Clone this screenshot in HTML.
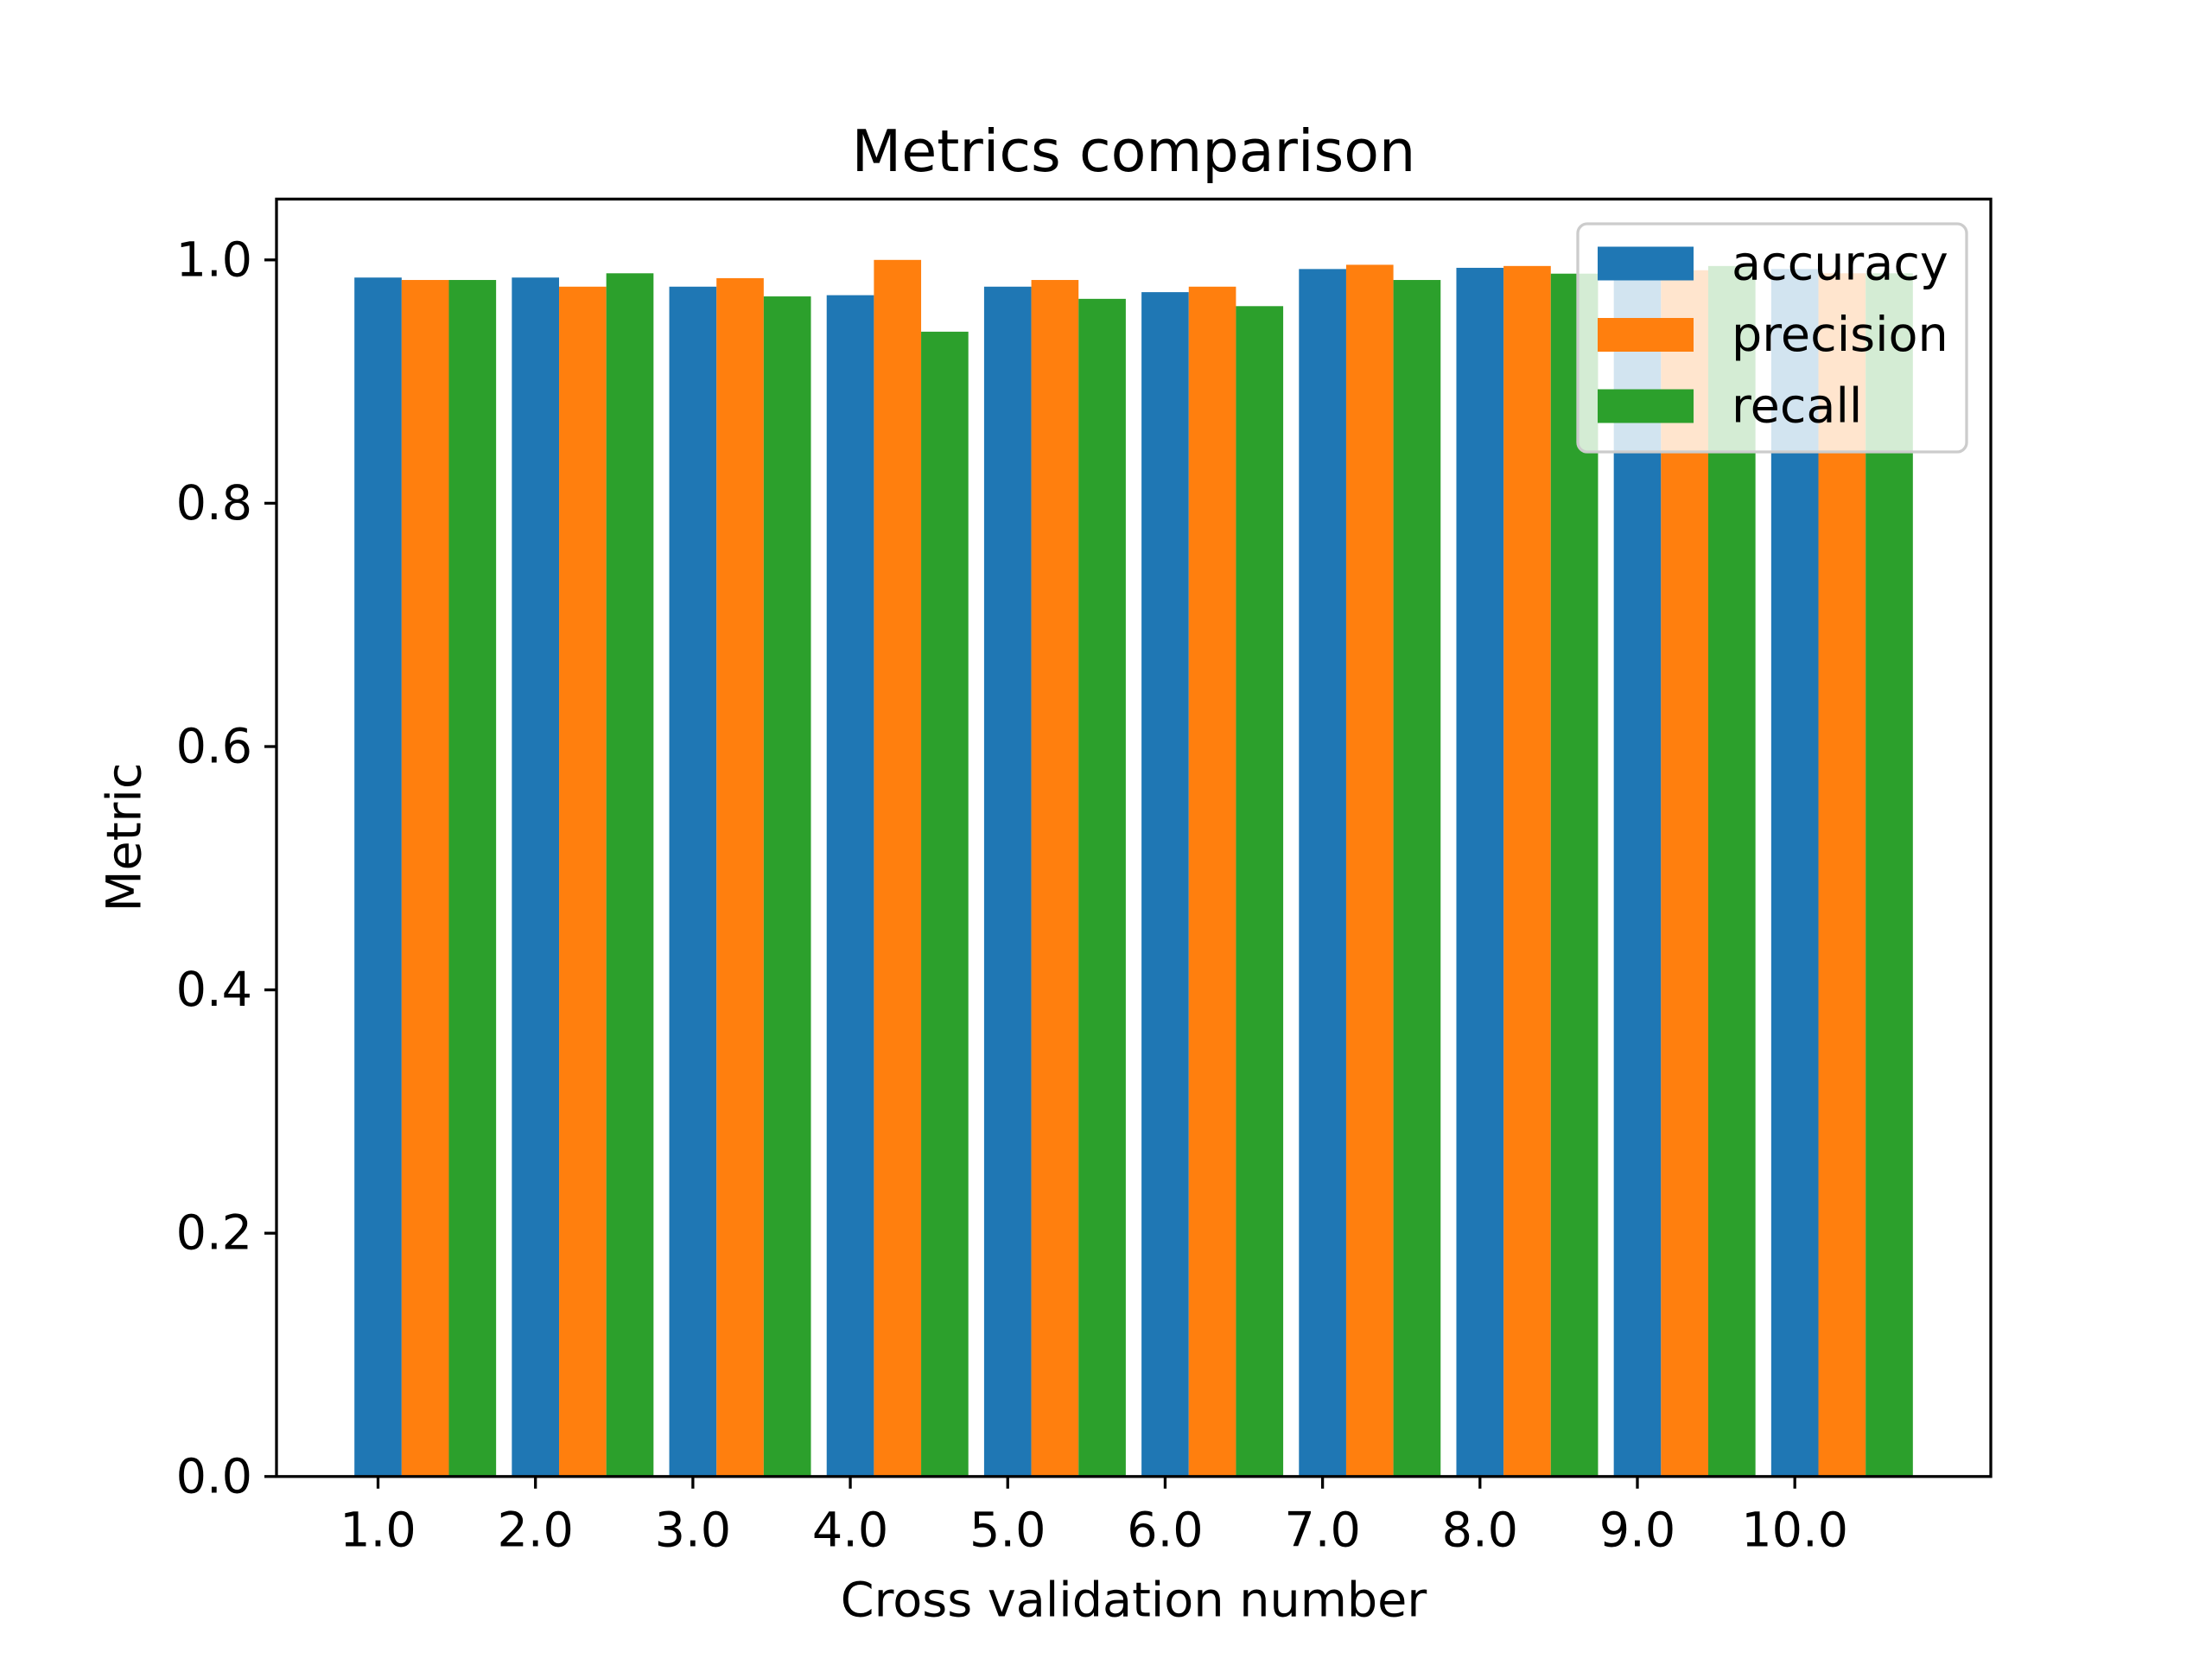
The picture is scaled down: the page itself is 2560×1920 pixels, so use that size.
<!DOCTYPE html>
<html><head><meta charset="utf-8"><style>
html,body{margin:0;padding:0;background:#fff;}
svg{display:block;font-family:"DejaVu Sans","Liberation Sans",sans-serif;}
</style></head><body>
<svg id="chart" width="2560" height="1920" viewBox="0 0 2560 1920" xmlns="http://www.w3.org/2000/svg">
<rect width="2560" height="1920" fill="#fff"/>
<g id="bars"></g>
<g id="axes"></g>
<text x="1312" y="175" font-size="66.7" text-anchor="middle" dominant-baseline="central">Metrics comparison</text>
<text x="1312" y="1852" font-size="55.6" text-anchor="middle" dominant-baseline="central">Cross validation number</text>
<text x="144" y="969" font-size="55.6" text-anchor="middle" dominant-baseline="central" transform="rotate(-90 144 969)">Metric</text>
<g id="legend"></g>
</svg>
<script>
const categories = [1,2,3,4,5,6,7,8,9,10];
const accuracy  = [0.9855,0.9855,0.978,0.971,0.978,0.9735,0.9925,0.9935,0.9925,0.9925];
const precision = [0.9835,0.978,0.985,1.0,0.9835,0.978,0.996,0.995,0.9915,0.989];
const recall    = [0.9835,0.989,0.970,0.941,0.968,0.962,0.9835,0.9887,0.995,0.989];
const yTicks = [0,0.2,0.4,0.6,0.8,1.0];
const seriesNames = ['accuracy','precision','recall'];

const NS='http://www.w3.org/2000/svg';
const L=320,R=2304,T=230.4,B=1708.8;
const barW=0.3;
const xMin=0.855-0.495-0.005, xMax=10.75+0.495;
const yMax=1.05;
const xs=v=>L+(v-xMin)/(xMax-xMin)*(R-L);
const ys=v=>B-v/yMax*(B-T);
const colors=['#1f77b4','#ff7f0e','#2ca02c'];
const series=[accuracy,precision,recall];
function mk(tag,attrs,parent){const e=document.createElementNS(NS,tag);for(const k in attrs)e.setAttribute(k,attrs[k]);parent.appendChild(e);return e;}
const gb=document.getElementById('bars');
series.forEach((s,si)=>{
  s.forEach((v,i)=>{
    const c=categories[i]+si*barW;
    const x0=xs(c-barW/2),x1=xs(c+barW/2);
    const r=mk('rect',{x:x0,y:ys(v),width:x1-x0,height:ys(0)-ys(v),fill:colors[si]},gb);
    
    
  });
});
const ga=document.getElementById('axes');
const frame=mk('rect',{x:L,y:T,width:R-L,height:B-T,fill:'none',stroke:'#000','stroke-width':3.3},ga);


yTicks.forEach(t=>{
  const y=ys(t);
  mk('line',{x1:L-14,x2:L,y1:y,y2:y,stroke:'#000','stroke-width':3.3},ga);
  const tx=mk('text',{x:L-28,y:y,'font-size':55.6,'text-anchor':'end','dominant-baseline':'central'},ga);
  tx.textContent=t.toFixed(1);
  
  
});
categories.forEach(c=>{
  const x=xs(c);
  mk('line',{x1:x,x2:x,y1:B,y2:B+14,stroke:'#000','stroke-width':3.3},ga);
  const tx=mk('text',{x:x,y:B+62,'font-size':55.6,'text-anchor':'middle','dominant-baseline':'central'},ga);
  tx.textContent=c.toFixed(1);
  
  
});
const gl=document.getElementById('legend');
const box=mk('rect',{x:1826,y:259,width:450,height:264,rx:11,fill:'#fff','fill-opacity':0.8,stroke:'#cccccc','stroke-width':3.3},gl);


seriesNames.forEach((n,i)=>{
  const cy=305+i*82.5;
  const sw=mk('rect',{x:1849,y:cy-19.5,width:111,height:39,fill:colors[i]},gl);
  
  
  const tx=mk('text',{x:2004,y:cy,'font-size':55.6,'dominant-baseline':'central'},gl);
  tx.textContent=n;
  
  
});
</script>
</body></html>
